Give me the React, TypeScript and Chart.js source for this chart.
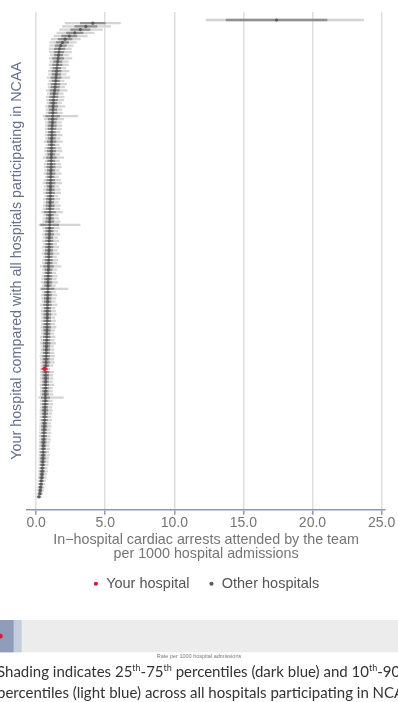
import React, { useEffect, useRef } from "react";
import { Chart, registerables } from "chart.js";
Chart.register(...registerables);

// Hospital rates (per 1000 admissions), sorted high -> low (top -> bottom)
const rates = [
  17.4,
  4.1, 3.6, 3.2, 2.8, 2.4, 2.1, 1.9, 1.78, 1.7,
  1.65, 1.62, 1.59, 1.56, 1.53, 1.5, 1.48, 1.46, 1.44, 1.42, 1.4, 1.37, 1.34, 1.31, 1.28,
  1.25, 1.24, 1.23, 1.22, 1.21, 1.2, 1.19, 1.18, 1.16,
  1.15, 1.14, 1.14, 1.13, 1.12, 1.12, 1.11, 1.11, 1.1, 1.1, 1.09, 1.09, 1.08,
  1.07, 1.07, 1.06, 1.06, 1.05, 1.04, 1.04, 1.03, 1.03, 1.02, 1.01, 1.01,
  1.0, 1.0, 0.99, 0.99, 0.98, 0.98, 0.97, 0.97, 0.96, 0.95, 0.95, 0.94, 0.94,
  0.93, 0.92, 0.92, 0.91, 0.9, 0.9, 0.89, 0.88, 0.87,
  0.86, 0.86, 0.85, 0.85, 0.84, 0.84, 0.83, 0.83, 0.82, 0.82, 0.81, 0.81, 0.8,
  0.8, 0.79, 0.79, 0.78, 0.78, 0.77, 0.76, 0.76, 0.75, 0.74, 0.74, 0.73,
  0.72, 0.72, 0.71, 0.62, 0.7, 0.7, 0.69, 0.69, 0.68, 0.68, 0.67, 0.67, 0.67,
  0.66, 0.65, 0.64, 0.63, 0.63, 0.62, 0.61, 0.6, 0.59,
  0.58, 0.57, 0.56, 0.55, 0.54, 0.53, 0.52, 0.51, 0.5, 0.49,
  0.48, 0.47, 0.45, 0.44, 0.42, 0.4,
  0.38, 0.35, 0.32, 0.3,
  0.27, 0.2,
];

// Inner interval half-width (dark grey)
const innerErr = [
  3.65,
  0.9, 0.8, 0.7, 0.6, 0.55, 0.5, 0.45, 0.4, 0.38,
  0.35, 0.3, 0.4, 0.3, 0.35, 0.28, 0.33, 0.3, 0.36, 0.27, 0.32, 0.3, 0.34, 0.28, 0.3,
  0.3, 0.26, 0.33, 0.28, 0.3, 0.5, 0.32, 0.27, 0.3,
  0.28, 0.25, 0.3, 0.26, 0.32, 0.24, 0.28, 0.3, 0.25, 0.35, 0.26, 0.28, 0.3,
  0.26, 0.3, 0.24, 0.28, 0.32, 0.25, 0.27, 0.3, 0.24, 0.28, 0.26, 0.3,
  0.28, 0.4, 0.25, 0.27, 0.3, 0.65, 0.28, 0.26, 0.3, 0.25, 0.27, 0.24, 0.28,
  0.26, 0.3, 0.24, 0.27, 0.25, 0.35, 0.26, 0.24, 0.27,
  0.25, 0.28, 0.24, 0.45, 0.23, 0.27, 0.25, 0.24, 0.28, 0.23, 0.25, 0.26, 0.24,
  0.25, 0.23, 0.26, 0.24, 0.22, 0.25, 0.23, 0.26, 0.22, 0.24, 0.23, 0.25,
  0.22, 0.24, 0.21, 0.2, 0.23, 0.21, 0.22, 0.2, 0.23, 0.21, 0.2, 0.22, 0.3,
  0.2, 0.21, 0.19, 0.22, 0.2, 0.19, 0.21, 0.18, 0.2,
  0.19, 0.18, 0.2, 0.17, 0.19, 0.18, 0.17, 0.19, 0.16, 0.18,
  0.17, 0.16, 0.15, 0.16, 0.14, 0.15,
  0.13, 0.12, 0.12, 0.11,
  0.1, 0.09,
];

// Outer interval: distance below / above the rate (light grey)
const outerMinus = [
  5.1,
  2.0, 1.7, 1.5, 1.3, 1.1, 1.0, 0.9, 0.8, 0.75,
  0.7, 0.6, 0.65, 0.55, 0.6, 0.5, 0.6, 0.55, 0.65, 0.5, 0.55, 0.5, 0.6, 0.5, 0.55,
  0.5, 0.45, 0.55, 0.5, 0.5, 0.7, 0.6, 0.5, 0.5,
  0.5, 0.45, 0.5, 0.45, 0.55, 0.4, 0.5, 0.5, 0.45, 0.6, 0.45, 0.5, 0.5,
  0.45, 0.5, 0.4, 0.5, 0.55, 0.45, 0.5, 0.5, 0.4, 0.5, 0.45, 0.5,
  0.5, 0.6, 0.45, 0.5, 0.5, 0.77, 0.5, 0.45, 0.5, 0.45, 0.5, 0.4, 0.5,
  0.45, 0.5, 0.4, 0.45, 0.45, 0.6, 0.45, 0.4, 0.45,
  0.45, 0.5, 0.4, 0.56, 0.4, 0.45, 0.45, 0.4, 0.5, 0.4, 0.45, 0.45, 0.4,
  0.45, 0.4, 0.45, 0.4, 0.4, 0.45, 0.4, 0.45, 0.4, 0.4, 0.4, 0.45,
  0.4, 0.4, 0.38, 0.3, 0.4, 0.38, 0.4, 0.36, 0.4, 0.38, 0.36, 0.38, 0.5,
  0.36, 0.36, 0.34, 0.36, 0.35, 0.34, 0.35, 0.33, 0.34,
  0.33, 0.32, 0.33, 0.31, 0.32, 0.31, 0.3, 0.31, 0.29, 0.3,
  0.29, 0.28, 0.27, 0.27, 0.25, 0.25,
  0.24, 0.22, 0.21, 0.2,
  0.18, 0.15,
];
const outerPlus = [
  6.3,
  2.0, 1.8, 1.6, 1.4, 1.3, 1.1, 1.0, 0.9, 0.85,
  0.9, 0.7, 1.0, 0.75, 0.8, 0.65, 0.9, 0.7, 1.0, 0.6, 0.8, 0.7, 0.9, 0.65, 0.75,
  0.75, 0.6, 0.85, 0.65, 0.7, 1.8, 0.8, 0.65, 0.7,
  0.7, 0.6, 0.75, 0.6, 0.8, 0.55, 0.7, 0.75, 0.6, 0.9, 0.6, 0.7, 0.75,
  0.6, 0.75, 0.55, 0.7, 0.8, 0.6, 0.7, 0.75, 0.55, 0.7, 0.6, 0.75,
  0.7, 0.9, 0.6, 0.65, 0.75, 2.2, 0.7, 0.6, 0.75, 0.6, 0.7, 0.55, 0.7,
  0.6, 0.75, 0.55, 0.65, 0.6, 0.9, 0.6, 0.55, 0.65,
  0.6, 0.7, 0.55, 1.45, 0.55, 0.65, 0.6, 0.55, 0.7, 0.55, 0.6, 0.65, 0.55,
  0.6, 0.55, 0.65, 0.55, 0.5, 0.6, 0.55, 0.65, 0.5, 0.55, 0.55, 0.6,
  0.55, 0.6, 0.5, 0.35, 0.55, 0.5, 0.55, 0.5, 0.6, 0.5, 0.5, 0.55, 1.3,
  0.5, 0.55, 0.5, 0.55, 0.5, 0.45, 0.5, 0.45, 0.5,
  0.45, 0.5, 0.45, 0.5, 0.45, 0.4, 0.45, 0.4, 0.45, 0.4,
  0.4, 0.4, 0.35, 0.38, 0.33, 0.32,
  0.3, 0.28, 0.26, 0.24,
  0.2, 0.17,
];

const yourIndex = 109;
const xTicks = [0, 5, 10, 15, 20, 25];
const legendLabels = ["Your hospital\u00a0", "Other hospitals"];
const xTitle = ["In\u2212hospital cardiac arrests attended by the team", "per 1000 hospital admissions"];
const yTitle = "Your hospital compared with all hospitals participating in NCAA";

// Bottom strip (national distribution)
const stripRange = [0.6, 21.5];
const pct10to90 = [0.4, 1.72];
const pct25to75 = [0.55, 1.3];
const yourRate = 0.62;
const stripTitle = "Rate per 1000 hospital admissions";

const FONT = "'Liberation Sans', Arial, sans-serif";

export default function App() {
  const mainRef = useRef<HTMLCanvasElement>(null);
  const stripRef = useRef<HTMLCanvasElement>(null);

  useEffect(() => {
    const outerData = rates.map((v, i) => ({ x: [v - outerMinus[i], v + outerPlus[i]], y: i }));
    const innerData = rates.map((v, i) => ({ x: [v - innerErr[i], v + innerErr[i]], y: i }));
    const otherData = rates.map((v, i) => ({ x: v, y: i })).filter((_, i) => i !== yourIndex);
    const yourData = [{ x: rates[yourIndex], y: yourIndex }];
    const legendColors = ["#e4152f", "#5c5c5c"];

    const main = new Chart(mainRef.current!, {
      type: "bar",
      data: {
        datasets: [
          {
            type: "line",
            label: legendLabels[0],
            data: yourData as any,
            showLine: false,
            pointRadius: 2.2,
            pointBorderWidth: 0,
            pointBackgroundColor: legendColors[0],
            backgroundColor: legendColors[0],
            borderColor: legendColors[0],
            order: 0,
          },
          {
            type: "line",
            label: legendLabels[1],
            data: otherData as any,
            showLine: false,
            pointRadius: 1.6,
            pointBorderWidth: 0,
            pointBackgroundColor: "#5a5a5a",
            backgroundColor: "#5a5a5a",
            borderColor: "#5a5a5a",
            order: 1,
          },
          {
            label: "inner",
            data: innerData as any,
            grouped: false,
            barThickness: 1.6,
            backgroundColor: (c: any) => (c.dataIndex === yourIndex ? "#e9566f" : "#8f8f8f"),
            order: 2,
          },
          {
            label: "outer",
            data: outerData as any,
            grouped: false,
            barThickness: 1.6,
            backgroundColor: (c: any) => (c.dataIndex === yourIndex ? "#f4b8c4" : "#d4d4d4"),
            order: 3,
          },
        ] as any,
      },
      options: {
        responsive: false,
        animation: false,
        indexAxis: "y",
        events: [],
        layout: { autoPadding: false, padding: { top: 12, right: 13, left: 3, bottom: 0 } },
        scales: {
          x: {
            type: "linear",
            min: -0.65,
            max: 25.25,
            afterBuildTicks: (s: any) => {
              s.ticks = xTicks.map((v) => ({ value: v }));
            },
            grid: { color: "#dedede", lineWidth: 1.5, tickColor: "#8a99b6", tickLength: 5, tickWidth: 1.5 },
            border: { color: "#8a99b6", width: 1.5 },
            ticks: {
              color: "#747474",
              padding: 0,
              font: { family: FONT, size: 14 },
              callback: (v: any) => Number(v).toFixed(1),
            },
            title: {
              display: true,
              text: xTitle,
              color: "#747474",
              padding: { top: 2, bottom: 0 },
              font: { family: FONT, size: 14.3, lineHeight: 0.98 },
            },
          },
          y: {
            type: "linear",
            reverse: true,
            min: -2.5,
            max: 153,
            offset: false,
            grid: { display: false, drawTicks: false },
            border: { display: false },
            ticks: { display: false },
            title: {
              display: true,
              text: yTitle,
              color: "#66708a",
              padding: { top: 5, bottom: 2 },
              font: { family: FONT, size: 14.3 },
            },
          },
        },
        plugins: {
          tooltip: { enabled: false },
          legend: {
            position: "bottom",
            fullSize: false,
            labels: {
              usePointStyle: true,
              boxHeight: 3,
              boxWidth: 6,
              padding: 15,
              color: "#555",
              font: { family: FONT, size: 14.5 },
              generateLabels: () =>
                legendLabels.map((t, k) => ({
                  text: t,
                  fillStyle: legendColors[k],
                  strokeStyle: legendColors[k],
                  lineWidth: 0,
                  pointStyle: "circle",
                  hidden: false,
                  datasetIndex: k,
                  fontColor: "#555",
                })),
            },
          },
        },
      } as any,
    });

    const strip = new Chart(stripRef.current!, {
      type: "bar",
      data: {
        datasets: [
          {
            type: "line",
            label: "your",
            data: [{ x: yourRate, y: 0 }] as any,
            showLine: false,
            pointRadius: 2.4,
            pointBorderWidth: 0,
            pointBackgroundColor: "#e4152f",
            order: 0,
            clip: false,
          },
          {
            label: "p25-75",
            data: [{ x: pct25to75, y: 0 }] as any,
            grouped: false,
            barThickness: 32,
            backgroundColor: "#8f9dba",
            order: 1,
          },
          {
            label: "p10-90",
            data: [{ x: pct10to90, y: 0 }] as any,
            grouped: false,
            barThickness: 32,
            backgroundColor: "#c4cddc",
            order: 2,
          },
          {
            label: "range",
            data: [{ x: stripRange, y: 0 }] as any,
            grouped: false,
            barThickness: 32,
            backgroundColor: "#ececec",
            order: 3,
          },
        ] as any,
      },
      options: {
        responsive: false,
        animation: false,
        indexAxis: "y",
        events: [],
        layout: { autoPadding: false, padding: { top: 4, right: 0, left: 0, bottom: 4 } },
        scales: {
          x: {
            type: "linear",
            min: stripRange[0],
            max: stripRange[1],
            grid: { display: false, drawTicks: false },
            border: { display: false },
            ticks: { display: false },
            title: {
              display: true,
              text: stripTitle,
              color: "#777",
              padding: { top: 1, bottom: 0 },
              font: { family: FONT, size: 5.5 },
            },
          },
          y: { type: "linear", min: -0.5, max: 0.5, display: false },
        },
        plugins: { legend: { display: false }, tooltip: { enabled: false } },
      } as any,
    });

    return () => {
      main.destroy();
      strip.destroy();
    };
  }, []);

  const sup = { fontSize: "9px", position: "relative" as const, top: "-6px", lineHeight: 0 };
  return (
    <div style={{ position: "absolute", left: 0, top: 0, width: 398, height: 702, overflow: "hidden", background: "#fff" }}>
      <canvas ref={mainRef} width={398} height={601} style={{ position: "absolute", left: 0, top: 0 }} />
      <canvas ref={stripRef} width={398} height={48} style={{ position: "absolute", left: 0, top: 616 }} />
      <div
        style={{
          position: "absolute",
          left: -3,
          top: 661,
          whiteSpace: "nowrap",
          fontFamily: "Lato, 'Open Sans', sans-serif",
          fontSize: 15,
          lineHeight: "21px",
          color: "#333",
        }}
      >
        <div>
          Shading indicates 25<span style={sup}>th</span>-75<span style={sup}>th</span> percentiles (dark blue) and 10
          <span style={sup}>th</span>-90<span style={sup}>th</span>
        </div>
        <div>percentiles (light blue) across all hospitals participating in NCAA</div>
      </div>
    </div>
  );
}
